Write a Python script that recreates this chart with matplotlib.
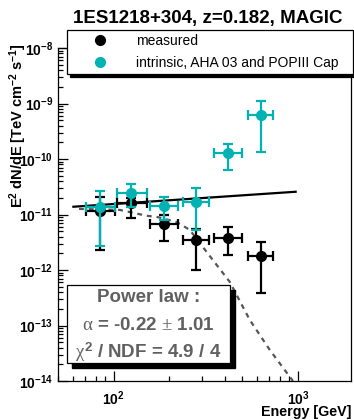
import matplotlib
matplotlib.use("Agg")
import matplotlib.pyplot as plt
from matplotlib.lines import Line2D
from matplotlib.patches import Rectangle
from matplotlib.ticker import FuncFormatter, LogLocator, NullFormatter
import numpy as np

plt.rcParams["font.family"] = ["Liberation Sans", "DejaVu Sans"]
plt.rcParams["mathtext.fontset"] = "custom"
plt.rcParams["mathtext.rm"] = "Liberation Serif"
plt.rcParams["mathtext.it"] = "Liberation Serif"
plt.rcParams["mathtext.bf"] = "Liberation Sans:bold"

# energy bins [GeV]
energy = np.array([84, 125, 187, 279, 418, 627])
e_low = np.array([70.5, 105, 157, 237, 349, 535])
e_high = np.array([102, 152, 225, 328, 497, 731])

# measured E^2 dN/dE [TeV cm^-2 s^-1]
measured = np.array([1.17e-11, 1.58e-11, 6.65e-12, 3.47e-12, 3.82e-12, 1.79e-12])
meas_low = np.array([2.3e-12, 8.7e-12, 3.3e-12, 1.0e-12, 1.86e-12, 3.9e-13])
meas_high = np.array([2.07e-11, 1.95e-11, 1.0e-11, 5.5e-12, 5.96e-12, 3.24e-12])

# intrinsic (deabsorbed, AHA 03 and POPIII Cap)
intrinsic = np.array([1.38e-11, 2.41e-11, 1.42e-11, 1.70e-11, 1.26e-10, 6.2e-10])
intr_low = np.array([2.7e-12, 1.38e-11, 7.9e-12, 5.25e-12, 6.3e-11, 1.35e-10])
intr_high = np.array([2.6e-11, 3.55e-11, 2.09e-11, 3.04e-11, 1.9e-10, 1.12e-9])

# power law fit, end points
fit_e = [60.6, 972]
fit_f = [1.38e-11, 2.57e-11]

# fit times absorption (dashed)
abs_e = [65, 108, 151, 173, 220, 259, 324, 427, 548, 705, 905, 940]
abs_f = [1.26e-11, 1.21e-11, 9.5e-12, 9.0e-12, 7.3e-12, 5.3e-12, 2.0e-12,
         6.1e-13, 1.26e-13, 3.6e-14, 1.18e-14, 1.0e-14]

CYAN = "#00B2B2"
GRAY = "#606060"

fig = plt.figure(figsize=(3.54, 4.2), dpi=100)
ax = fig.add_axes([58 / 354, 39 / 420, 293 / 354, 333 / 420])
ax.set_xscale("log")
ax.set_yscale("log")
ax.set_xlim(50, 1940)
ax.set_ylim(1e-14, 1e-8)

ax.plot(abs_e, abs_f, color="#555555", lw=1.6, ls=(0, (2.2, 2.2)), zorder=2)
ax.plot(fit_e, fit_f, color="black", lw=1.6, zorder=3)

ax.errorbar(energy, measured,
            xerr=[energy - e_low, e_high - energy],
            yerr=[measured - meas_low, meas_high - measured],
            fmt="o", color="black", ms=7, elinewidth=1.6,
            capsize=3.5, capthick=1.6, zorder=4)
ax.errorbar(energy, intrinsic,
            xerr=[energy - e_low, e_high - energy],
            yerr=[intrinsic - intr_low, intr_high - intrinsic],
            fmt="o", color=CYAN, ms=7, elinewidth=1.6,
            capsize=3.5, capthick=1.6, zorder=5)

# ticks, ROOT style
ax.xaxis.set_major_locator(LogLocator(base=10))
ax.xaxis.set_minor_locator(LogLocator(base=10, subs=np.arange(2, 10)))
ax.yaxis.set_major_locator(LogLocator(base=10, numticks=20))
ax.yaxis.set_minor_locator(LogLocator(base=10, subs=np.arange(2, 10), numticks=20))
exp_fmt = FuncFormatter(lambda v, p: r"$\mathbf{10^{%d}}$" % round(np.log10(v)))
ax.xaxis.set_major_formatter(exp_fmt)
ax.yaxis.set_major_formatter(exp_fmt)
ax.xaxis.set_minor_formatter(NullFormatter())
ax.yaxis.set_minor_formatter(NullFormatter())
ax.tick_params(which="both", direction="in", top=False, right=False, labelsize=10, width=0.9)
ax.tick_params(which="major", length=7)
ax.tick_params(which="minor", length=3.5)
ax.tick_params(axis="x", pad=6)
for s in ax.spines.values():
    s.set_linewidth(0.9)

fig.text(207.5 / 354, 1 - 19 / 420, "1ES1218+304, z=0.182, MAGIC", fontsize=13.5,
         fontweight="bold", ha="center", va="center")
ax.set_xlabel("Energy [GeV]", fontsize=10.3, fontweight="bold")
ax.xaxis.set_label_coords(1.0, -(412 - 381) / 333)
ax.xaxis.label.set_horizontalalignment("right")
ax.xaxis.label.set_verticalalignment("center")
ax.set_ylabel(r"$\mathbf{E^{2}\ dN/dE\ [TeV\ cm^{-2}\ s^{-1}]}$", fontsize=10.5)
ylab = ax.yaxis.label
ylab.set_rotation_mode("anchor")
ylab.set_horizontalalignment("right")
ylab.set_verticalalignment("center")
ax.yaxis.set_label_coords(-(58 - 18) / 293, (381 - 43) / 333)

# legend
handles = [Line2D([], [], ls="none", marker="o", ms=7, color="black"),
           Line2D([], [], ls="none", marker="o", ms=7, color=CYAN)]
leg = ax.legend(handles, ["measured", "intrinsic, AHA 03 and POPIII Cap"],
                loc="center left", bbox_to_anchor=(0.0307, 0.922, 0.976, 0.132),
                mode="expand", borderaxespad=0, fontsize=10, borderpad=0.3,
                labelspacing=0.58, handlelength=4.1, handletextpad=0.55,
                fancybox=False, framealpha=1, edgecolor="black",
                shadow={"color": "black", "alpha": 1})
leg.get_frame().set_linewidth(0.9)
leg.set_zorder(10)

# fit box
bx0, by0, bx1, by1 = 0.0307, 0.054, 0.587, 0.288
dx, dy = 5 / 293, 5 / 333
ax.add_patch(Rectangle((bx0 + dx, by0 - dy), bx1 - bx0, by1 - by0,
                       transform=ax.transAxes, facecolor="black",
                       edgecolor="black", clip_on=False, zorder=8))
ax.add_patch(Rectangle((bx0, by0), bx1 - bx0, by1 - by0,
                       transform=ax.transAxes, facecolor="white",
                       edgecolor="black", lw=0.9, clip_on=False, zorder=9))
cx = (bx0 + bx1) / 2
box_lines = ["Power law :",
             r"$\alpha$ = -0.22 $\pm$ 1.01",
             r"$\chi^{\mathbf{2}}$ / NDF = 4.9 / 4"]
box_y = [(381 - 298) / 333, (381 - 325) / 333, (381 - 352) / 333]
for txt, yy in zip(box_lines, box_y):
    ax.text(cx, yy, txt, transform=ax.transAxes, ha="center", va="center",
            fontsize=13.5, fontweight="bold", color=GRAY, zorder=10)

fig.savefig("out.png", dpi=100)
